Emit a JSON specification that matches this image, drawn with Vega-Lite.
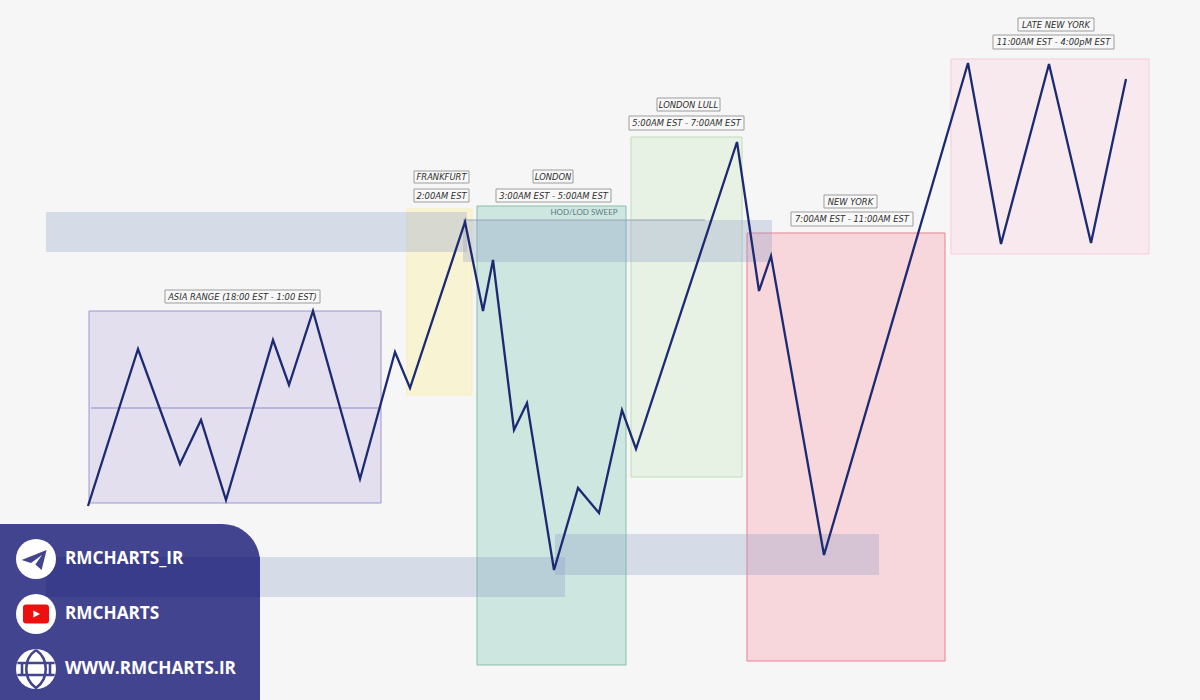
{
  "$schema": "https://vega.github.io/schema/vega-lite/v6.json",
  "description": "Forex trading sessions drawn over a zigzag price path.",
  "background": "#f6f6f6",
  "padding": 0,
  "autosize": {"type": "fit", "contains": "padding"},
  "width": 1200,
  "height": 700,
  "view": {"stroke": null},
  "datasets": {
    "sessions": [
      {"session": "Asia", "left": 89, "right": 381, "top": 311, "bottom": 503},
      {"session": "Frankfurt", "left": 407, "right": 472, "top": 209, "bottom": 395},
      {"session": "London", "left": 477, "right": 626, "top": 206, "bottom": 665},
      {"session": "London Lull", "left": 631, "right": 742, "top": 137, "bottom": 477},
      {"session": "New York", "left": 747, "right": 945, "top": 233, "bottom": 661},
      {"session": "Late New York", "left": 951, "right": 1149, "top": 59, "bottom": 254}
    ],
    "zones": [
      {"left": 46, "right": 467, "top": 212, "bottom": 252},
      {"left": 463, "right": 772, "top": 220, "bottom": 262},
      {"left": 555, "right": 879, "top": 534, "bottom": 575},
      {"left": 46, "right": 565, "top": 557, "bottom": 597}
    ],
    "levels": [
      {"name": "asia mid", "left": 91, "right": 381, "level": 408, "tone": "asia"},
      {"name": "sweep", "left": 463, "right": 705, "level": 220, "tone": "sweep"}
    ],
    "price": [
      {"t": 88, "p": 506}, {"t": 138, "p": 349}, {"t": 180, "p": 464}, {"t": 201, "p": 420},
      {"t": 226, "p": 500}, {"t": 273, "p": 340}, {"t": 289, "p": 385}, {"t": 313, "p": 311},
      {"t": 360, "p": 479}, {"t": 395, "p": 352}, {"t": 410, "p": 388}, {"t": 465, "p": 222},
      {"t": 483, "p": 311}, {"t": 493, "p": 260}, {"t": 514, "p": 430}, {"t": 527, "p": 403},
      {"t": 554, "p": 570}, {"t": 578, "p": 488}, {"t": 599, "p": 513}, {"t": 622, "p": 410},
      {"t": 636, "p": 449}, {"t": 737, "p": 142}, {"t": 759, "p": 291}, {"t": 771, "p": 256},
      {"t": 824, "p": 555}, {"t": 968, "p": 63}, {"t": 1001, "p": 244}, {"t": 1049, "p": 64},
      {"t": 1091, "p": 243}, {"t": 1126, "p": 79}
    ],
    "labels": [
      {"label": "ASIA RANGE (18:00 EST - 1:00 EST)", "left": 165, "right": 320, "top": 290, "bottom": 303, "cx": 242.5, "cy": 296.5},
      {"label": "FRANKFURT", "left": 414, "right": 469, "top": 171, "bottom": 183, "cx": 441.5, "cy": 177},
      {"label": "2:00AM EST", "left": 414, "right": 469, "top": 189, "bottom": 202, "cx": 441.5, "cy": 195.5},
      {"label": "LONDON", "left": 533, "right": 573, "top": 170, "bottom": 183, "cx": 553, "cy": 176.5},
      {"label": "3:00AM EST - 5:00AM EST", "left": 496, "right": 611, "top": 189, "bottom": 202, "cx": 553.5, "cy": 195.5},
      {"label": "LONDON LULL", "left": 657, "right": 720, "top": 98, "bottom": 111, "cx": 688.5, "cy": 104.5},
      {"label": "5:00AM EST - 7:00AM EST", "left": 629, "right": 744, "top": 116, "bottom": 130, "cx": 686.5, "cy": 123},
      {"label": "NEW YORK", "left": 824, "right": 877, "top": 195, "bottom": 208, "cx": 850.5, "cy": 201.5},
      {"label": "7:00AM EST - 11:00AM EST", "left": 791, "right": 913, "top": 212, "bottom": 226, "cx": 852, "cy": 219},
      {"label": "LATE NEW YORK", "left": 1018, "right": 1094, "top": 18, "bottom": 31, "cx": 1056, "cy": 24.5},
      {"label": "11:00AM EST - 4:00pM EST", "left": 993, "right": 1114, "top": 35, "bottom": 49, "cx": 1053.5, "cy": 42}
    ],
    "notes": [{"note": "HOD/LOD SWEEP", "cx": 584, "cy": 213}],
    "panel": [{"left": 0, "right": 260, "top": 524, "bottom": 700}],
    "panelShade": [{"left": 46, "right": 260, "top": 557, "bottom": 597}],
    "badges": [
      {"name": "telegram", "cx": 36, "cy": 559, "text": "RMCHARTS_IR"},
      {"name": "youtube", "cx": 36, "cy": 614, "text": "RMCHARTS"},
      {"name": "web", "cx": 36, "cy": 669, "text": "WWW.RMCHARTS.IR"}
    ]
  },
  "encoding": {
    "x": {"type": "quantitative", "scale": {"domain": [0, 1200], "nice": false, "zero": false}, "axis": null},
    "y": {"type": "quantitative", "scale": {"domain": [700, 0], "nice": false, "zero": false}, "axis": null}
  },
  "layer": [
    {
      "data": {"name": "sessions"},
      "mark": {"type": "rect", "strokeWidth": 1},
      "encoding": {
        "x": {"field": "left", "type": "quantitative", "scale": {"domain": [0, 1200], "nice": false, "zero": false}, "axis": null},
        "x2": {"field": "right"},
        "y": {"field": "top", "type": "quantitative", "scale": {"domain": [700, 0], "nice": false, "zero": false}, "axis": null},
        "y2": {"field": "bottom"},
        "fill": {
          "field": "session",
          "type": "nominal",
          "legend": null,
          "scale": {
            "domain": ["Asia", "Frankfurt", "London", "London Lull", "New York", "Late New York"],
            "range": ["#e3dfee", "#f8f3d3", "#cde6e0", "#e7f1e4", "#f7d6dc", "#f7e9ee"]
          }
        },
        "stroke": {
          "field": "session",
          "type": "nominal",
          "legend": null,
          "scale": {
            "domain": ["Asia", "Frankfurt", "London", "London Lull", "New York", "Late New York"],
            "range": ["#9c98d0", "#f6efbc", "#86bfae", "#c0dcbc", "#e9808f", "#f7cdd8"]
          }
        }
      }
    },
    {
      "data": {"name": "levels"},
      "mark": {"type": "rule", "strokeWidth": 1},
      "encoding": {
        "x": {"field": "left", "type": "quantitative"},
        "x2": {"field": "right"},
        "y": {"field": "level", "type": "quantitative"},
        "color": {
          "field": "tone",
          "type": "nominal",
          "legend": null,
          "scale": {"domain": ["asia", "sweep"], "range": ["#8f8ccb", "#9aa5b0"]}
        }
      }
    },
    {
      "data": {"name": "notes"},
      "mark": {"type": "text", "fontSize": 8, "font": "Lato", "color": "#5f7a80", "baseline": "middle"},
      "encoding": {
        "x": {"field": "cx", "type": "quantitative"},
        "y": {"field": "cy", "type": "quantitative"},
        "text": {"field": "note"}
      }
    },
    {
      "data": {"name": "zones"},
      "mark": {"type": "rect", "color": "#8a9ac8", "opacity": 0.3},
      "encoding": {
        "x": {"field": "left", "type": "quantitative"},
        "x2": {"field": "right"},
        "y": {"field": "top", "type": "quantitative"},
        "y2": {"field": "bottom"}
      }
    },
    {
      "data": {"name": "price"},
      "mark": {"type": "line", "color": "#1c2a72", "strokeWidth": 2.3},
      "encoding": {
        "x": {"field": "t", "type": "quantitative"},
        "y": {"field": "p", "type": "quantitative"},
        "order": {"field": "t", "type": "quantitative"}
      }
    },
    {
      "data": {"name": "labels"},
      "mark": {"type": "rect", "fill": "#f8f8f8", "stroke": "#9c9c9c", "strokeWidth": 1},
      "encoding": {
        "x": {"field": "left", "type": "quantitative"},
        "x2": {"field": "right"},
        "y": {"field": "top", "type": "quantitative"},
        "y2": {"field": "bottom"}
      }
    },
    {
      "data": {"name": "labels"},
      "mark": {"type": "text", "font": "DejaVu Sans", "fontSize": 8.4, "fontStyle": "italic", "color": "#2e2e2e", "baseline": "middle"},
      "encoding": {
        "x": {"field": "cx", "type": "quantitative"},
        "y": {"field": "cy", "type": "quantitative"},
        "text": {"field": "label"}
      }
    },
    {
      "data": {"name": "panel"},
      "mark": {"type": "rect", "color": "#434490", "opacity": 1, "cornerRadiusTopRight": 38},
      "encoding": {
        "x": {"field": "left", "type": "quantitative"},
        "x2": {"field": "right"},
        "y": {"field": "top", "type": "quantitative"},
        "y2": {"field": "bottom"}
      }
    },
    {
      "data": {"name": "panelShade"},
      "mark": {"type": "rect", "color": "#393b8b", "opacity": 0.9},
      "encoding": {
        "x": {"field": "left", "type": "quantitative"},
        "x2": {"field": "right"},
        "y": {"field": "top", "type": "quantitative"},
        "y2": {"field": "bottom"}
      }
    },
    {
      "data": {"name": "badges"},
      "mark": {"type": "point", "shape": "circle", "filled": true, "size": 1600, "color": "#ffffff", "opacity": 1},
      "encoding": {
        "x": {"field": "cx", "type": "quantitative"},
        "y": {"field": "cy", "type": "quantitative"}
      }
    },
    {
      "data": {"name": "badges"},
      "transform": [{"filter": "datum.name === 'telegram'"}],
      "mark": {"type": "point", "filled": true, "size": 1600, "color": "#434490", "opacity": 1, "shape": "M0.53,-0.45 L-0.72,0.05 L-0.25,0.2 L0.3,-0.2 L-0.03,0.28 L0.28,0.55 Z"},
      "encoding": {
        "x": {"field": "cx", "type": "quantitative"},
        "y": {"field": "cy", "type": "quantitative"}
      }
    },
    {
      "data": {"name": "badges"},
      "transform": [{"filter": "datum.name === 'youtube'"}],
      "mark": {"type": "point", "filled": true, "size": 1600, "color": "#ee0f0f", "opacity": 1, "shape": "M-0.5,-0.47 L0.5,-0.47 Q0.65,-0.47 0.65,-0.32 L0.65,0.32 Q0.65,0.47 0.5,0.47 L-0.5,0.47 Q-0.65,0.47 -0.65,0.32 L-0.65,-0.32 Q-0.65,-0.47 -0.5,-0.47 Z"},
      "encoding": {
        "x": {"field": "cx", "type": "quantitative"},
        "y": {"field": "cy", "type": "quantitative"}
      }
    },
    {
      "data": {"name": "badges"},
      "transform": [{"filter": "datum.name === 'youtube'"}],
      "mark": {"type": "point", "filled": true, "size": 1600, "color": "#ffffff", "opacity": 1, "shape": "M-0.13,-0.17 L0.2,0 L-0.13,0.17 Z"},
      "encoding": {
        "x": {"field": "cx", "type": "quantitative"},
        "y": {"field": "cy", "type": "quantitative"}
      }
    },
    {
      "data": {"name": "badges"},
      "transform": [{"filter": "datum.name === 'web'"}],
      "mark": {"type": "point", "filled": false, "size": 1600, "stroke": "#434490", "strokeWidth": 2.6, "opacity": 1, "shape": "M0,-0.95 C-0.65,-0.5 -0.65,0.5 0,0.95 C0.65,0.5 0.65,-0.5 0,-0.95 M-0.93,-0.3 L0.93,-0.3 M-0.93,0.3 L0.93,0.3 M-0.7,-0.3 L-0.7,0.3 M0.7,-0.3 L0.7,0.3"},
      "encoding": {
        "x": {"field": "cx", "type": "quantitative"},
        "y": {"field": "cy", "type": "quantitative"}
      }
    },
    {
      "data": {"name": "badges"},
      "mark": {"type": "text", "font": "Open Sans", "align": "left", "baseline": "middle", "dx": 29, "fontSize": 17.2, "fontWeight": 700, "color": "#ffffff"},
      "encoding": {
        "x": {"field": "cx", "type": "quantitative"},
        "y": {"field": "cy", "type": "quantitative"},
        "text": {"field": "text"}
      }
    }
  ],
  "resolve": {"scale": {"color": "independent", "fill": "independent", "stroke": "independent"}}
}
